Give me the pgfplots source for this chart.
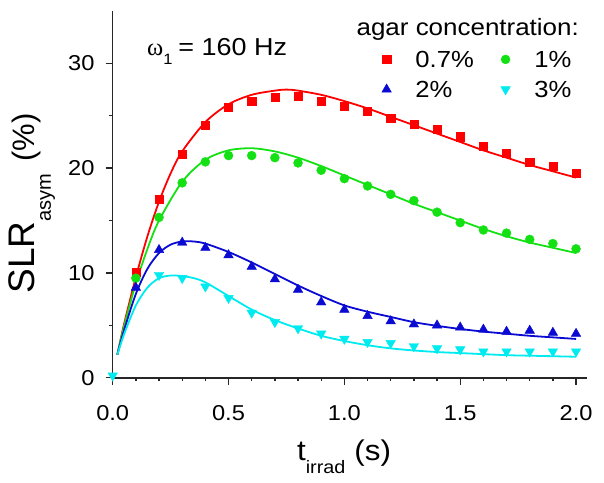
\documentclass[border=0pt]{standalone}
\usepackage{fontspec}
\setmainfont{Liberation Sans}[FakeStretch=1.1]
\newfontfamily\ylabfont{Liberation Sans}
\newfontfamily\symfont{Liberation Serif}
\usepackage{pgfplots}
\pgfplotsset{compat=1.18}
\definecolor{cred}{RGB}{255,0,0}
\definecolor{cgreen}{RGB}{20,225,20}
\definecolor{cblue}{RGB}{10,10,210}
\definecolor{ccyan}{RGB}{0,235,240}
\begin{document}
\begin{tikzpicture}[x=1pt,y=1pt]
\begin{axis}[
  name=main,
  at={(0,0)}, anchor=south west,
  scale only axis,
  width=474pt, height=366.7pt,
  xmin=0, xmax=2.046, ymin=0, ymax=35,
  axis lines*=left,
  axis line style={line width=1.6pt, black!85},
  every tick/.style={line width=1.4pt, black!85},
  tick align=outside,
  major tick length=7pt,
  minor tick length=3.6pt,
  xtick={0,0.5,1.0,1.5,2.0},
  minor xtick={0.1,0.2,0.3,0.4,0.6,0.7,0.8,0.9,1.1,1.2,1.3,1.4,1.6,1.7,1.8,1.9},
  ytick={0,10,20,30},
  minor ytick={5,15,25},
  xticklabel style={/pgf/number format/fixed, /pgf/number format/fixed zerofill, /pgf/number format/precision=1},
  /pgf/number format/assume math mode=true,
  ticklabel style={font=\fontsize{21.5}{25}\selectfont},
  xticklabel style={anchor=base, inner sep=0pt, yshift=-35.3pt},
  yticklabel style={anchor=east, inner sep=0pt, xshift=-11pt},
  xlabel={t\raisebox{-13pt}{\fontsize{18}{18}\selectfont irrad}\hspace{9pt}(s)},
  xlabel style={font=\fontsize{28.5}{33}\selectfont, anchor=base, at={(axis description cs:0.488,-0.2245)}},
  ylabel={\ylabfont{\fontsize{37}{40}\selectfont SLR}\raisebox{-16pt}{\fontsize{20}{20}\selectfont asym}\hspace{12pt}(\%)},
  ylabel style={font=\fontsize{31}{35}\selectfont, anchor=base, at={(axis description cs:-0.164,0.475)}},
  legend columns=2,
  legend cell align=left,
  legend style={draw=none, fill=none, at={(axis cs:1.148,31.4)}, anchor=north west,
    font=\fontsize{23.3}{27}\selectfont,
    nodes={inner sep=0pt, text height=17pt, text depth=0pt},
    row sep=13pt,
    /tikz/every odd column/.append style={column sep=24pt},
    /tikz/every even column/.append style={column sep=27pt}},
  clip=false,
]
% fitted curves
\addplot[cred, line width=1.8pt, smooth, forget plot] coordinates {
(0.02,2.2)(0.05,5.2)(0.1,9.6)(0.15,13.5)(0.2,16.8)(0.25,19.5)(0.3,21.6)(0.4,24.4)(0.5,26.1)(0.6,27.0)(0.7,27.4)(0.75,27.5)(0.8,27.4)(0.9,27.0)(1.0,26.4)(1.1,25.7)(1.2,24.9)(1.3,24.1)(1.4,23.3)(1.5,22.5)(1.6,21.7)(1.7,21.0)(1.8,20.3)(1.9,19.7)(2.0,19.1)};
\addplot[cgreen, line width=1.8pt, smooth, forget plot] coordinates {
(0.02,2.2)(0.05,5.0)(0.1,9.0)(0.15,12.3)(0.2,15.0)(0.3,18.7)(0.4,20.8)(0.5,21.7)(0.6,21.9)(0.7,21.6)(0.8,21.0)(0.9,20.2)(1.0,19.3)(1.1,18.4)(1.2,17.5)(1.3,16.6)(1.4,15.8)(1.5,15.0)(1.6,14.2)(1.7,13.5)(1.8,12.9)(1.9,12.4)(2.0,11.9)};
\addplot[cblue, line width=1.8pt, smooth, forget plot] coordinates {
(0.02,2.2)(0.05,4.6)(0.1,8.0)(0.15,10.4)(0.2,11.9)(0.25,12.7)(0.3,13.0)(0.35,13.0)(0.4,12.8)(0.5,12.0)(0.6,11.0)(0.7,9.9)(0.8,8.8)(0.9,7.8)(1.0,6.9)(1.1,6.3)(1.2,5.8)(1.3,5.3)(1.4,4.95)(1.5,4.65)(1.6,4.4)(1.7,4.2)(1.8,4.0)(1.9,3.85)(2.0,3.7)};
\addplot[ccyan, line width=1.8pt, smooth, forget plot] coordinates {
(0.02,2.2)(0.05,4.2)(0.1,6.9)(0.15,8.6)(0.2,9.5)(0.25,9.75)(0.3,9.7)(0.35,9.5)(0.4,9.1)(0.5,7.8)(0.6,6.5)(0.7,5.5)(0.8,4.7)(0.9,4.0)(1.0,3.5)(1.1,3.1)(1.2,2.8)(1.3,2.6)(1.4,2.45)(1.5,2.35)(1.6,2.25)(1.7,2.15)(1.8,2.1)(1.9,2.05)(2.0,2.0)};
% data
\addplot[only marks, mark=square*, mark size=4.1pt, color=cred] coordinates {
(0.1,10.1)(0.2,17.0)(0.3,21.3)(0.4,24.1)(0.5,25.8)(0.6,26.4)(0.7,26.8)(0.8,26.9)(0.9,26.4)(1.0,25.9)(1.1,25.4)(1.2,24.8)(1.3,24.2)(1.4,23.7)(1.5,23.0)(1.6,22.1)(1.7,21.4)(1.8,20.6)(1.9,20.2)(2.0,19.5)};
\addlegendentry{0.7\%}
\addplot[only marks, mark=*, mark size=4.5pt, color=cgreen] coordinates {
(0.1,9.5)(0.2,15.3)(0.3,18.6)(0.4,20.6)(0.5,21.2)(0.6,21.2)(0.7,21.0)(0.8,20.5)(0.9,19.8)(1.0,19.0)(1.1,18.3)(1.2,17.5)(1.3,16.9)(1.4,15.8)(1.5,14.8)(1.6,14.1)(1.7,13.8)(1.8,13.2)(1.9,12.8)(2.0,12.3)};
\addlegendentry{1\%}
\addplot[only marks, mark=triangle*, mark size=5.5pt, color=cblue] coordinates {
(0.1,8.6)(0.2,12.2)(0.3,12.9)(0.4,12.4)(0.5,11.7)(0.6,10.6)(0.7,9.4)(0.8,8.4)(0.9,7.2)(1.0,6.5)(1.1,5.9)(1.2,5.4)(1.3,5.1)(1.4,5.0)(1.5,4.8)(1.6,4.6)(1.7,4.4)(1.8,4.5)(1.9,4.3)(2.0,4.2)};
\addlegendentry{2\%}
\addplot[only marks, mark=triangle*, mark size=5.5pt, mark options={rotate=180}, color=ccyan] coordinates {
(0.0,0.2)(0.2,9.8)(0.3,9.5)(0.4,8.7)(0.5,7.6)(0.6,6.2)(0.7,5.3)(0.8,4.7)(0.9,4.2)(1.0,3.7)(1.1,3.4)(1.2,3.3)(1.3,3.0)(1.4,2.8)(1.5,2.7)(1.6,2.5)(1.7,2.5)(1.8,2.5)(1.9,2.5)(2.0,2.5)};
\addlegendentry{3\%}
\node[anchor=base west, inner sep=0pt, font=\fontsize{24.5}{28}\selectfont] at (axis cs:0.148,30.8) {{\symfont ω}\raisebox{-9pt}{\fontsize{15}{15}\selectfont 1}\hspace{6pt}= 160 Hz};
\node[anchor=base east, inner sep=0pt, font=\fontsize{23.6}{28}\selectfont] at (axis cs:2.013,32.7) {agar concentration:};
\coordinate (SW) at (rel axis cs:0,0);
\end{axis}
\pgfresetboundingbox
\path[use as bounding box] ([xshift=-112.7pt,yshift=-104.3pt]SW) rectangle ++(604pt,482pt);
\end{tikzpicture}
\end{document}
